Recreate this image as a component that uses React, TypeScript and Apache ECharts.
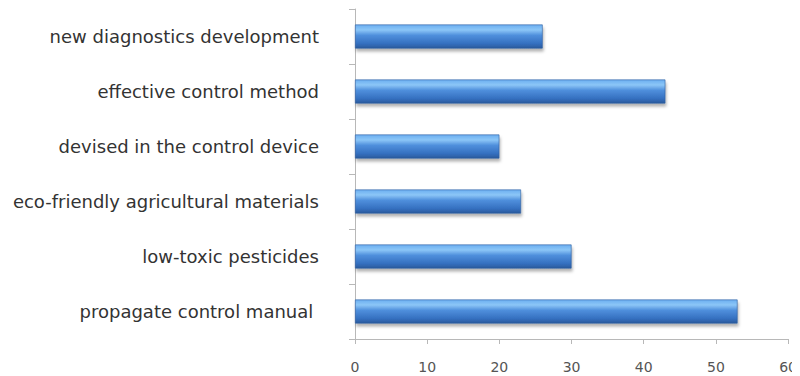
import React, { useEffect, useRef } from "react";
import * as echarts from "echarts";

// Categories listed bottom-to-top, as ECharts draws a category y-axis
const categories = [
  "propagate control manual ",
  "low-toxic pesticides",
  "eco-friendly agricultural materials",
  "devised in the control device",
  "effective control method",
  "new diagnostics development",
];
const values = [53, 30, 23, 20, 43, 26];
const xTicks = { min: 0, max: 60, interval: 10 };

export default function App() {
  const ref = useRef<HTMLDivElement>(null);

  useEffect(() => {
    if (!ref.current) return;
    const chart = echarts.init(ref.current, null, { renderer: "svg" });
    chart.setOption({
      animation: false,
      backgroundColor: "#ffffff",
      grid: { left: 347, right: 10, top: 1, bottom: 37 },
      xAxis: {
        type: "value",
        min: xTicks.min,
        max: xTicks.max,
        interval: xTicks.interval,
        splitLine: { show: false },
        axisLine: { show: true, lineStyle: { color: "#b8b8b8", width: 1 } },
        axisTick: { show: true, length: 5, lineStyle: { color: "#b8b8b8" } },
        axisLabel: {
          color: "#555",
          fontFamily: "DejaVu Sans",
          fontSize: 14,
          margin: 21,
        },
      },
      yAxis: {
        type: "category",
        data: categories,
        axisLine: { show: true, lineStyle: { color: "#b8b8b8", width: 1 } },
        axisTick: { show: true, length: 6, lineStyle: { color: "#b8b8b8" } },
        axisLabel: {
          color: "#333",
          fontFamily: "DejaVu Sans",
          fontSize: 18,
          margin: 36,
        },
      },
      series: [
        {
          type: "bar",
          data: values,
          barWidth: 24,
          itemStyle: {
            color: new echarts.graphic.LinearGradient(0, 0, 0, 1, [
              { offset: 0, color: "#6aaef0" },
              { offset: 0.22, color: "#8cc6f7" },
              { offset: 0.45, color: "#4f8fdc" },
              { offset: 0.8, color: "#3570c0" },
              { offset: 1, color: "#2a5a9c" },
            ]),
            borderColor: "#2f5e9e",
            borderWidth: 0.6,
            shadowColor: "rgba(0,0,0,0.3)",
            shadowBlur: 3,
            shadowOffsetY: 3,
            shadowOffsetX: 1,
          },
        },
      ],
    });
    return () => chart.dispose();
  }, []);

  return <div ref={ref} style={{ width: 792, height: 368 }} />;
}
